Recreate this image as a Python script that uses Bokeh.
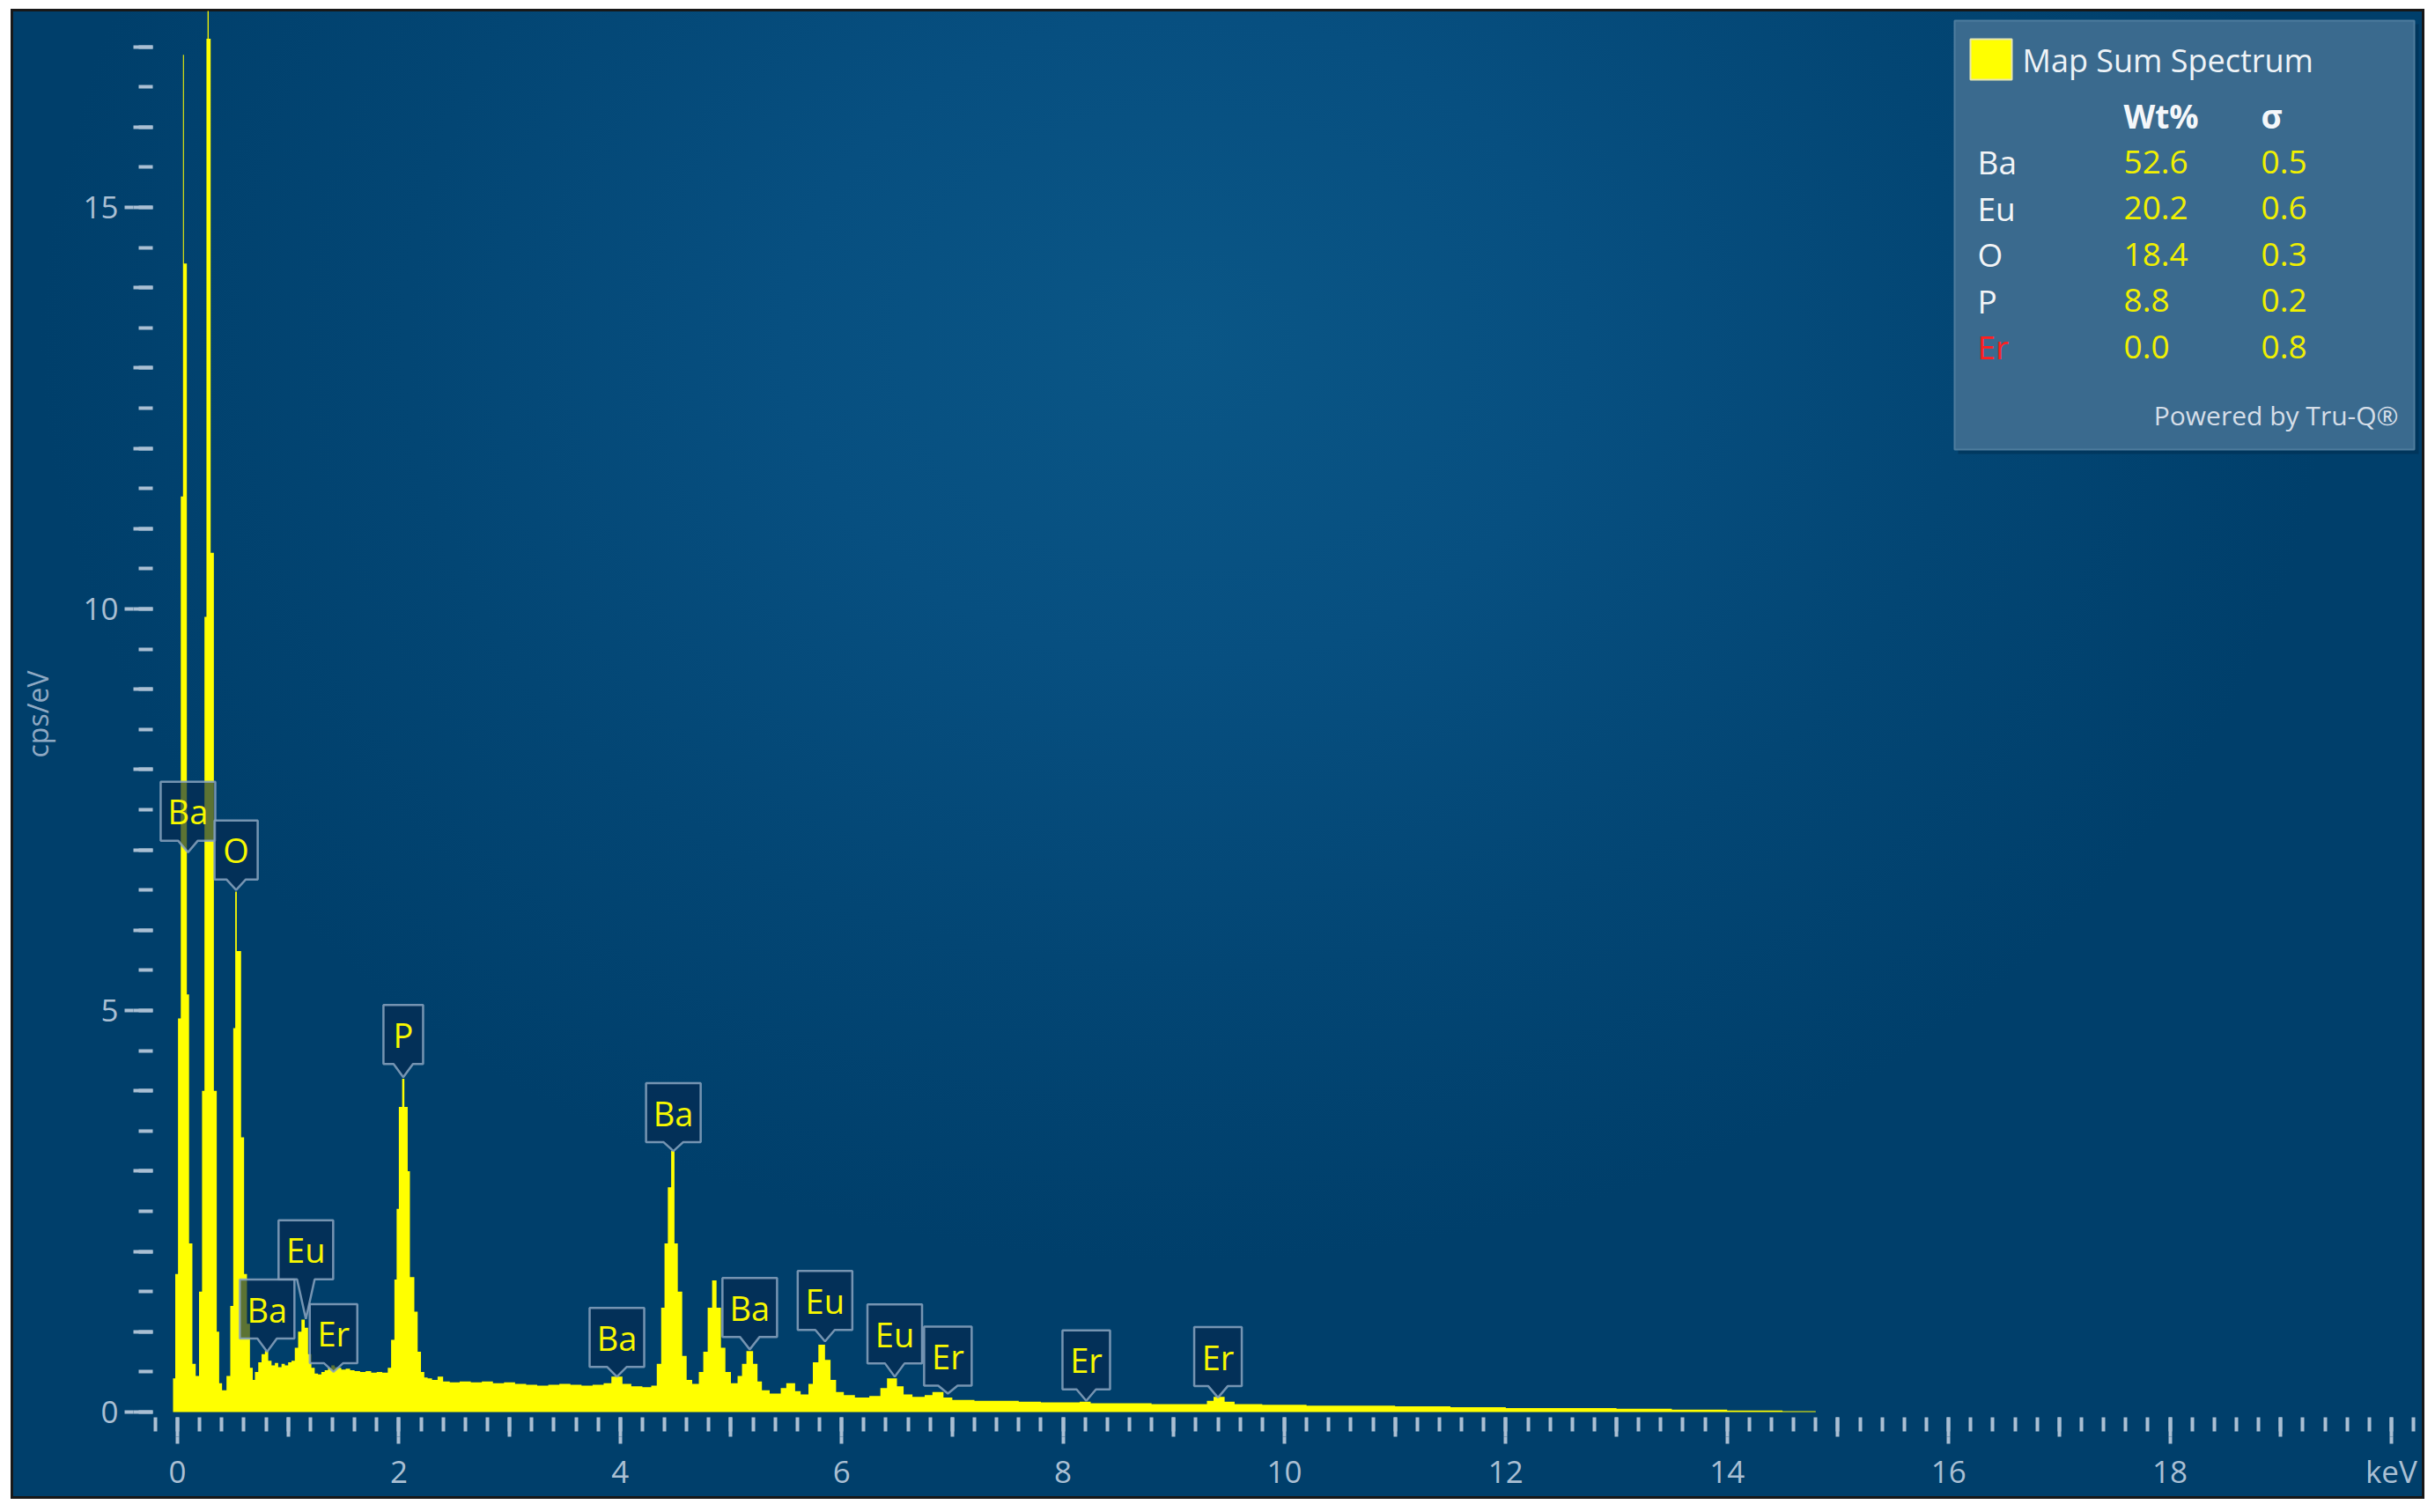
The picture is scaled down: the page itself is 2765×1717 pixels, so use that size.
from bokeh.plotting import figure
from bokeh.models import LinearAxis, FixedTicker, Range1d
from bokeh.core.properties import value
from bokeh.embed import file_html
from bokeh.resources import INLINE

# ---------------- data ----------------
# spectrum: left edge of each bin (keV) and its intensity (cps/eV)
energy_a = [-0.04, -0.02, 0.005, 0.03, 0.05, 0.058, 0.085, 0.105, 0.135, 0.165,
            0.195, 0.222, 0.244, 0.262, 0.272, 0.282, 0.300, 0.329, 0.355, 0.377]
cps_a = [0.42, 1.72, 4.9, 11.4, 16.9, 14.3, 5.2, 2.1, 0.6, 0.45,
         1.5, 4.0, 9.9, 17.1, 19.0, 17.1, 10.7, 4.0, 1.0, 0.36]

energy_b = [0.403, 0.443, 0.477, 0.504, 0.522, 0.536, 0.575, 0.602, 0.628, 0.655,
            0.68, 0.70, 0.73, 0.76, 0.79, 0.82, 0.85, 0.88, 0.91, 0.94]
cps_b = [0.27, 0.45, 1.32, 4.78, 6.48, 5.74, 3.42, 1.72, 1.1, 0.55,
         0.4, 0.5, 0.62, 0.72, 0.76, 0.64, 0.58, 0.61, 0.56, 0.6]

energy_c = [0.97, 1.00, 1.03, 1.06, 1.09, 1.12, 1.15, 1.18, 1.21, 1.24,
            1.27, 1.30, 1.33, 1.36, 1.39, 1.42, 1.45, 1.48, 1.52, 1.56]
cps_c = [0.58, 0.62, 0.64, 0.8, 1.0, 1.15, 1.05, 0.72, 0.55, 0.48,
         0.47, 0.5, 0.52, 0.55, 0.58, 0.56, 0.55, 0.53, 0.54, 0.52]

energy_d = [1.60, 1.65, 1.70, 1.75, 1.80, 1.85, 1.90, 1.93, 1.96, 1.98,
            2.00, 2.03, 2.05, 2.08, 2.10, 2.14, 2.17, 2.20, 2.23, 2.26]
cps_d = [0.51, 0.5, 0.51, 0.49, 0.5, 0.49, 0.55, 0.9, 1.65, 2.53,
         3.8, 4.15, 3.8, 3.0, 1.68, 1.25, 0.75, 0.5, 0.43, 0.42]

energy_e = [2.30, 2.35, 2.40, 2.46, 2.55, 2.65, 2.75, 2.85, 2.95, 3.05,
            3.15, 3.25, 3.35, 3.45, 3.55, 3.65, 3.75, 3.85, 3.92, 4.02]
cps_e = [0.4, 0.44, 0.38, 0.37, 0.38, 0.37, 0.38, 0.36, 0.37, 0.35,
         0.34, 0.33, 0.34, 0.35, 0.34, 0.33, 0.34, 0.36, 0.44, 0.35]

energy_f = [4.10, 4.20, 4.28, 4.33, 4.37, 4.40, 4.43, 4.46, 4.49, 4.52,
            4.56, 4.60, 4.65, 4.71, 4.75, 4.79, 4.83, 4.87, 4.91, 4.95]
cps_f = [0.32, 0.31, 0.33, 0.6, 1.3, 2.1, 2.8, 3.25, 2.1, 1.5,
         0.7, 0.4, 0.35, 0.5, 0.75, 1.3, 1.64, 1.3, 0.8, 0.5]

energy_g = [5.00, 5.06, 5.10, 5.14, 5.20, 5.24, 5.28, 5.35, 5.45, 5.50,
            5.58, 5.63, 5.70, 5.74, 5.79, 5.85, 5.90, 5.95, 6.02, 6.12]
cps_g = [0.36, 0.45, 0.6, 0.76, 0.6, 0.38, 0.27, 0.23, 0.3, 0.36,
         0.26, 0.22, 0.35, 0.62, 0.84, 0.65, 0.4, 0.25, 0.21, 0.18]

energy_h = [6.25, 6.35, 6.41, 6.50, 6.56, 6.64, 6.75, 6.82, 6.92, 7.00,
            7.2, 7.4, 7.6, 7.8, 8.0, 8.15, 8.25, 8.5, 8.8, 9.0]
cps_h = [0.2, 0.3, 0.42, 0.32, 0.22, 0.19, 0.21, 0.25, 0.18, 0.15,
         0.14, 0.14, 0.13, 0.12, 0.12, 0.13, 0.11, 0.11, 0.1, 0.1]

energy_i = [9.3, 9.36, 9.46, 9.55, 9.8, 10.2, 10.6, 11.0, 11.5, 12.0,
            12.5, 13.0, 13.5, 14.0, 14.5, 14.8]
cps_i = [0.14, 0.19, 0.13, 0.1, 0.09, 0.08, 0.08, 0.07, 0.06, 0.05,
         0.05, 0.04, 0.03, 0.02, 0.01, 0.0]

energy_kev = energy_a + energy_b + energy_c + energy_d + energy_e + energy_f + energy_g + energy_h + energy_i
cps = cps_a + cps_b + cps_c + cps_d + cps_e + cps_f + cps_g + cps_h + cps_i
assert len(energy_kev) == len(cps)

# peak identification markers
peak_names = ["Ba", "O", "Ba", "Eu", "Er", "P", "Ba", "Ba", "Ba", "Eu", "Eu", "Er", "Er", "Er"]
peak_kev = [0.095, 0.53, 0.81, 1.16, 1.41, 2.04, 3.97, 4.48, 5.17, 5.85, 6.48, 6.96, 8.21, 9.40]
peak_tip_cps = [6.97, 6.5, 0.75, 1.16, 0.50, 4.17, 0.44, 3.25, 0.78, 0.88, 0.44, 0.23, 0.14, 0.18]

# quantification table
legend_title = "Map Sum Spectrum"
legend_header = ["Wt%", "σ"]
legend_elements = ["Ba", "Eu", "O", "P", "Er"]
legend_wt = ["52.6", "20.2", "18.4", "8.8", "0.0"]
legend_sigma = ["0.5", "0.6", "0.3", "0.2", "0.8"]
legend_footer = "Powered by Tru-Q®"

# axes
x_major_ticks = [0, 2, 4, 6, 8, 10, 12, 14, 16, 18, 20]
x_tick_labels = ["0", "2", "4", "6", "8", "10", "12", "14", "16", "18", "keV"]
y_major_ticks = [0, 5, 10, 15]
y_tick_labels = ["0", "5", "10", "15"]
y_title = "cps/eV"

# ---------------- layout / style ----------------
X0, X1 = -0.2228, 20.263
Y0, Y1 = -0.0658, 17.445
FW, FH = 2575, 1597
FL, FB = 173, 1609           # frame left / bottom in page pixels
FT = FB - FH                 # frame top
FIG_W, FIG_H = 2753, 1702
PX = FW / (X1 - X0)
PY = FH / (Y1 - Y0)
TXT_DY = -12                 # baseline correction for legend texts


def dx(s):
    return X0 + (s - FL) / PX


def dy(s):
    return Y0 + (FB - s) / PY


def sx(x):
    return FL + (x - X0) * PX


def sy(y):
    return FB - (y - Y0) * PY


TICK = "#aabfd3"
FONT = "Open Sans"

p = figure(frame_width=FW, frame_height=FH,
           x_range=Range1d(X0, X1), y_range=Range1d(Y0, Y1),
           x_axis_type=None, y_axis_type=None,
           toolbar_location=None, output_backend="svg",
           min_border_left=FL, min_border_right=FIG_W - FL - FW,
           min_border_top=FT, min_border_bottom=FIG_H - FB)
p.background_fill_alpha = 0
p.border_fill_alpha = 0
p.outline_line_color = None
p.styles = {
    "background": "radial-gradient(ellipse 1300px 1050px at 1345px 385px, "
                  "#0a5686 0%, #074f80 35%, #034674 68%, #003f6b 100%)",
    "box-shadow": "inset 12px 10px 0 0 #ffffff, inset 15px 13px 0 0 #181818, "
                  "inset -3px -3px 0 0 #181818",
}

# ---- axes: inner (tick-only) and outer (labelled) ----
x_int = list(range(0, 21))
x_minor = [round(-0.2 + 0.2 * i, 1) for i in range(0, 103)]
xa_in = LinearAxis(ticker=FixedTicker(ticks=x_int, minor_ticks=x_minor),
                   axis_line_color=None,
                   major_tick_out=22, major_tick_in=0, minor_tick_out=16, minor_tick_in=0,
                   major_tick_line_width=4, minor_tick_line_width=4,
                   major_tick_line_color=TICK, minor_tick_line_color=TICK,
                   major_label_text_font_size="0px", major_label_standoff=0,
                   major_label_overrides={t: "" for t in x_int})
p.add_layout(xa_in, "below")
xa_out = LinearAxis(ticker=FixedTicker(ticks=x_major_ticks, minor_ticks=[]),
                    axis_line_color=None,
                    major_tick_out=8, major_tick_in=0, minor_tick_out=0, minor_tick_in=0,
                    major_tick_line_width=4, major_tick_line_color=TICK,
                    major_label_text_font=FONT, major_label_text_font_size="35px",
                    major_label_text_color=TICK, major_label_standoff=7,
                    major_label_overrides={t: l for t, l in zip(x_major_ticks, x_tick_labels)})
p.add_layout(xa_out, "below")

y_int = list(range(0, 18))
y_minor = [0.5 * i for i in range(0, 35)]
ya_in = LinearAxis(ticker=FixedTicker(ticks=y_int, minor_ticks=y_minor),
                   axis_line_color=None,
                   major_tick_out=22, major_tick_in=0, minor_tick_out=16, minor_tick_in=0,
                   major_tick_line_width=4, minor_tick_line_width=4,
                   major_tick_line_color=TICK, minor_tick_line_color=TICK,
                   major_label_text_font_size="0px", major_label_standoff=0,
                   major_label_overrides={t: "" for t in y_int})
p.add_layout(ya_in, "left")
ya_out = LinearAxis(ticker=FixedTicker(ticks=y_major_ticks, minor_ticks=[]),
                    axis_line_color=None,
                    major_tick_out=10, major_tick_in=0, minor_tick_out=0, minor_tick_in=0,
                    major_tick_line_width=4, major_tick_line_color=TICK,
                    major_label_text_font=FONT, major_label_text_font_size="35px",
                    major_label_text_color=TICK, major_label_standoff=7,
                    major_label_overrides={t: l for t, l in zip(y_major_ticks, y_tick_labels)},
                    axis_label=y_title, axis_label_text_font=FONT,
                    axis_label_text_font_size="32px", axis_label_text_font_style="normal",
                    axis_label_text_color="#8fa9c3", axis_label_standoff=27)
p.add_layout(ya_out, "left")

# ---- spectrum ----
p.varea_step(x=energy_kev, y1=0, y2=cps, step_mode="after", fill_color="#ffff00")

# ---- peak markers ----
box_w = {"Ba": 62, "O": 49, "Eu": 62, "Er": 54, "P": 45}
box_h = 67
pointer_len = [13, 12, 15, 45, 10, 15, 11, 10, 14, 13, 15, 9, 13, 13]
xs, ys, tx, ty = [], [], [], []
for name, k, c, pl in zip(peak_names, peak_kev, peak_tip_cps, pointer_len):
    px_, py_ = sx(k), sy(c)
    B = py_ - pl
    T = B - box_h
    hw = box_w[name] / 2
    hb = 10 if pl > 30 else 11
    poly = [(px_ - hw, B), (px_ - hb, B), (px_, py_), (px_ + hb, B),
            (px_ + hw, B), (px_ + hw, T), (px_ - hw, T)]
    xs.append([dx(a) for a, b in poly])
    ys.append([dy(b) for a, b in poly])
    tx.append(k)
    ty.append(dy((B + T) / 2))
p.patches(xs, ys, fill_color="#05284f", fill_alpha=0.65,
          line_color="#8aa5c0", line_width=2.5, line_alpha=0.85)
p.text(x=tx, y=ty, text=peak_names, text_font=value(FONT), text_font_size="38px",
       text_color="#f8f800", text_align="center", text_baseline="middle")

# ---- quantification box ----
p.quad(left=dx(2223), right=dx(2746), top=dy(27), bottom=dy(515),
       fill_color="#002a4a", fill_alpha=0.45, line_color=None)
p.quad(left=dx(2219), right=dx(2741), top=dy(23), bottom=dy(510),
       fill_color="#3a6a8e", line_color="#4f7d9e", line_width=2)
p.quad(left=dx(2237), right=dx(2284), top=dy(44), bottom=dy(90),
       fill_color="#ffff00", line_color="#e6e6b0", line_width=2)
p.text(x=[dx(2296)], y=[dy(80 + TXT_DY)], text=[legend_title], text_font=value(FONT),
       text_font_size="36px", text_color="#eef3f7", text_baseline="alphabetic")
p.text(x=[dx(2411), dx(2567)], y=[dy(143 + TXT_DY)] * 2, text=legend_header,
       text_font=value(FONT), text_font_size="37px", text_font_style="bold",
       text_color="#f4f7fa", text_baseline="alphabetic")
row_y = [dy(195 + 52.5 * i + TXT_DY) for i in range(len(legend_elements))]
el_colors = ["#ff1f1f" if e == "Er" else "#f2f4f6" for e in legend_elements]
p.text(x=[dx(2245)] * len(legend_elements), y=row_y, text=legend_elements,
       text_font=value(FONT), text_font_size="37px", text_color=el_colors,
       text_baseline="alphabetic")
p.text(x=[dx(2411)] * len(legend_wt), y=row_y, text=legend_wt,
       text_font=value(FONT), text_font_size="37px", text_color="#f0f000",
       text_baseline="alphabetic")
p.text(x=[dx(2567)] * len(legend_sigma), y=row_y, text=legend_sigma,
       text_font=value(FONT), text_font_size="37px", text_color="#f0f000",
       text_baseline="alphabetic")
p.text(x=[dx(2723)], y=[dy(483 + TXT_DY)], text=[legend_footer], text_font=value(FONT),
       text_font_size="30px", text_color="#d5dee8", text_align="right",
       text_baseline="alphabetic")

open("out.html", "w").write(file_html(p, INLINE))
